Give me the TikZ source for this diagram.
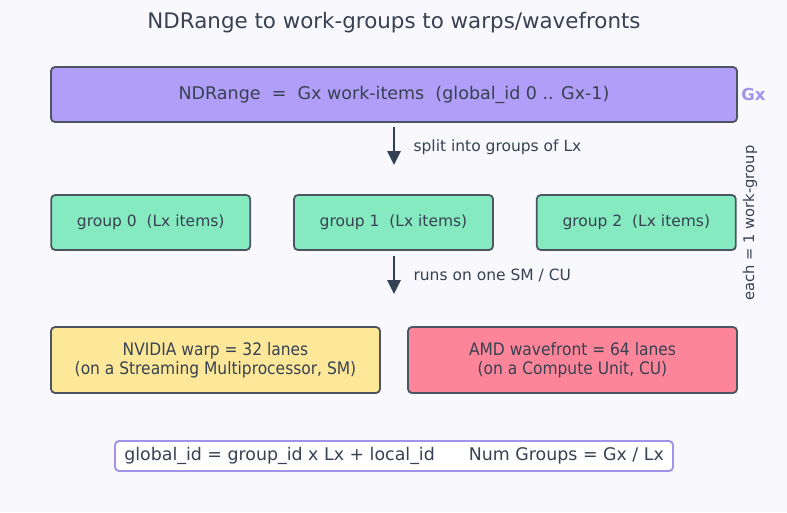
\documentclass[tikz,border=0pt]{standalone}
\usepackage{fontspec}
\setmainfont{DejaVu Sans}
\newfontfamily\condfont{DejaVu Sans Condensed}
\usetikzlibrary{arrows.meta,positioning}
\definecolor{bgc}{HTML}{F9F9FD}
\definecolor{ink}{HTML}{374151}
\definecolor{edge}{HTML}{4B5563}
\definecolor{ndfill}{HTML}{B09EF8}
\definecolor{grpfill}{HTML}{86EAC1}
\definecolor{nvfill}{HTML}{FDE89A}
\definecolor{amdfill}{HTML}{FC8599}
\definecolor{lav}{HTML}{A392EA}
\definecolor{arr}{HTML}{334155}
\tikzset{every node/.style={align=center, text=ink}, >={Triangle[length=14pt,width=13pt]},
  box/.style={draw=edge, line width=1.8pt, rounded corners=4pt, inner sep=0pt},
  grp/.style={box, fill=grpfill, minimum width=199pt, minimum height=55pt, font=\fontsize{15.5}{18}\selectfont},
  hw/.style={box, minimum width=329pt, minimum height=66pt, font=\condfont\fontsize{17.2}{19}\selectfont},
  note/.style={anchor=west, font=\fontsize{15.5}{18}\selectfont}}

\begin{document}
\begin{tikzpicture}[x=1pt, y=-1pt]
            \fill [bgc] (0,0) rectangle (787,512);
            \node (title) at (394,23) {\fontsize{21.4}{25}\selectfont NDRange to work-groups to warps/wavefronts};
            \node [box,fill=ndfill,minimum width=686pt,minimum height=55pt,font=\fontsize{17.5}{21}\selectfont] (nd) at (394,94.5) {NDRange \ = \ Gx work-items \ (global\_id 0 .. Gx-1)};
            \node [text=lav,font=\bfseries\fontsize{16.5}{19}\selectfont] (gx) [right=0pt of nd] {Gx};

            \node [grp] (g1) at (393.5,222.5) {group 1 \ (Lx items)};
            \node [grp] (g0) [left=42pt of g1] {group 0 \ (Lx items)};
            \node [grp] (g2) [right=42pt of g1] {group 2 \ (Lx items)};
            \node [rotate=90,font=\fontsize{14.7}{17}\selectfont] (each) at (750,223) {each = 1 work-group};

            \node [hw,fill=nvfill] (nv) at (215.5,360) {NVIDIA warp = 32 lanes\\(on a Streaming Multiprocessor, SM)};
            \node [hw,fill=amdfill] (amd) at (572.5,360) {AMD wavefront = 64 lanes\\(on a Compute Unit, CU)};

            \node [box,draw=lav,line width=1.9pt,fill=white,minimum width=558pt,minimum height=30pt,font=\fontsize{17.4}{20}\selectfont] (fm) at (394,456) {global\_id = group\_id x Lx + local\_id \hspace{23pt} Num Groups = Gx / Lx};

            % arrows between the rows
            \coordinate (a1) at (394,127); \coordinate (b1) at (394,165);
            \coordinate (a2) at (394,256); \coordinate (b2) at (394,294);
            \draw [->,arr,line width=2.6pt] (a1) -- (b1);
            \draw [->,arr,line width=2.6pt] (a2) -- (b2);
            \node [note] (split) at (410,147) {split into groups of Lx};
            \node [note] (runs) at (410,275) {runs on one SM / CU};

        \end{tikzpicture}
\end{document}
